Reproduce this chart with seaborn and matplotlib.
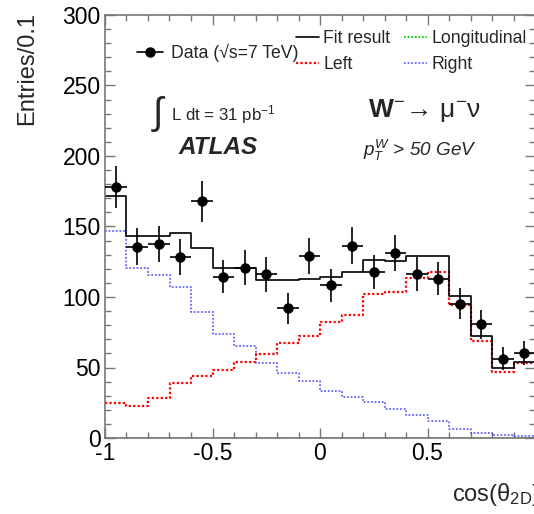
import numpy as np
import pandas as pd
import matplotlib
matplotlib.use("Agg")
import matplotlib.pyplot as plt
from matplotlib.lines import Line2D
from matplotlib.ticker import MultipleLocator
import seaborn as sns

# ---------------- data ----------------
bin_edges = [-1.0, -0.9, -0.8, -0.7, -0.6, -0.5, -0.4, -0.3, -0.2, -0.1, 0.0,
             0.1, 0.2, 0.3, 0.4, 0.5, 0.6, 0.7, 0.8, 0.9, 1.0]
data_counts = [178, 135.6, 137.6, 128.5, 168, 114.5, 120.7, 116, 91.9, 129,
               108.3, 136.4, 117.8, 130.9, 116.2, 113.1, 95.3, 80.5, 56.3, 60.3]
data_errors = [15, 13, 13.1, 12.7, 14.5, 12, 12.3, 12.1, 10.7, 12.7,
               11.6, 13, 12.2, 12.8, 12.1, 11.9, 10.9, 10, 8.4, 8.7]
fit_result = [171.5, 143.5, 143.5, 145.2, 134.5, 120.9, 120.4, 112.4, 112.4, 113.1,
              114.5, 117.8, 126.4, 125.7, 128.8, 128.8, 100.7, 72.2, 49.7, 53.7]
left_comp = [24.7, 23.0, 28.3, 38.7, 44.2, 48.0, 54.0, 59.6, 67.2, 72.2,
             82.2, 87.2, 102.2, 103.6, 113.6, 117.8, 94.6, 68.6, 47.0, 53.2]
right_comp = [146.8, 120.9, 115.5, 107.4, 89.3, 73.9, 65.6, 53.2, 46.1, 40.6,
              33.0, 29.4, 25.4, 20.9, 16.2, 12.3, 6.6, 3.8, 2.1, 1.4]
long_comp = [0.3, 0.3, 0.3, 0.3, 0.3, 0.3, 0.3, 0.3, 0.3, 0.3,
             0.3, 0.3, 0.3, 0.3, 0.3, 0.3, 0.3, 0.3, 0.3, 0.3]

edges = np.array(bin_edges)
centers = (edges[:-1] + edges[1:]) / 2
half_w = (edges[1:] - edges[:-1]) / 2

df = pd.DataFrame({"x": centers, "data": data_counts, "err": data_errors,
                   "fit": fit_result, "left": left_comp,
                   "right": right_comp, "long": long_comp})

# ---------------- style ----------------
sns.set_style("ticks")
plt.rcParams["font.family"] = ["Liberation Sans", "DejaVu Sans"]
plt.rcParams["mathtext.fontset"] = "custom"
plt.rcParams["mathtext.rm"] = "Liberation Sans"
plt.rcParams["mathtext.it"] = "Liberation Sans:italic"
plt.rcParams["mathtext.bf"] = "Liberation Sans:bold"

W, H = 534, 514
fig = plt.figure(figsize=(W / 100, H / 100), dpi=100)
ax = fig.add_axes([105 / W, 1 - 438 / H, 430 / W, 423 / H])

common = dict(bins=list(bin_edges), element="step", fill=False, stat="count", ax=ax)
sns.histplot(data=df, x="x", weights="long", color="#00cc00", linestyle=(0, (1, 1)), lw=1.3, **common)
sns.histplot(data=df, x="x", weights="right", color="#3333ff", linestyle=(0, (1, 1)), lw=1.3, alpha=0.75, **common)
sns.histplot(data=df, x="x", weights="left", color="#ff0000", linestyle=(0, (1, 1)), lw=1.6, **common)
sns.histplot(data=df, x="x", weights="fit", color="black", lw=1.2, **common)

ax.errorbar(df["x"], df["data"], yerr=df["err"], xerr=half_w, fmt="o",
            color="black", ms=6.5, elinewidth=1.2, capsize=0, zorder=5)

ax.set_xlim(-1, 1)
ax.set_ylim(0, 300)
ax.set_xlabel("")
ax.set_ylabel("")
ax.xaxis.set_minor_locator(MultipleLocator(0.1))
ax.yaxis.set_major_locator(MultipleLocator(50))
ax.yaxis.set_minor_locator(MultipleLocator(10))
ax.set_xticks([-1, -0.5, 0, 0.5])
ax.set_xticklabels(["-1", "-0.5", "0", "0.5"])
ax.tick_params(which="both", direction="in", top=True, right=True, colors="#777777",
               labelcolor="black", labelsize=16.5)
ax.tick_params(which="major", length=7.5, width=1)
ax.tick_params(which="minor", length=4, width=1)
ax.tick_params(axis="y", pad=3)
ax.tick_params(axis="x", pad=3)
for s in ax.spines.values():
    s.set_visible(True)
    s.set_color("#777777")
    s.set_linewidth(1.2)

fig.text(27 / W, 1 - 12 / H, "Entries/0.1", rotation=90, ha="center", va="top", fontsize=17)
fig.text(452 / W, 1 - 494 / H, r"cos($\mathrm{\theta}_{\mathrm{2D}}$)", ha="left", va="center",
         fontsize=17)

# legends
h_data = Line2D([], [], color="black", marker="o", ms=6.5, lw=1.2)
leg1 = ax.legend([h_data], ["Data (\u221as=7 TeV)"], loc="center left",
                 bbox_to_anchor=(137 / W, 1 - 53 / H), bbox_transform=fig.transFigure,
                 frameon=False, fontsize=12.7, handlelength=1.5, handletextpad=0.4,
                 borderpad=0, borderaxespad=0)
ax.add_artist(leg1)
handles = [Line2D([], [], color="black", lw=1.2),
           Line2D([], [], color="#ff0000", lw=1.6, ls=(0, (1, 1))),
           Line2D([], [], color="#00cc00", lw=1.3, ls=(0, (1, 1))),
           Line2D([], [], color="#3333ff", lw=1.3, ls=(0, (1, 1)), alpha=0.75)]
labels = ["Fit result", "Left", "Longitudinal", "Right"]
ax.legend(handles, labels, ncol=2, loc="upper left",
          bbox_to_anchor=(296 / W, 1 - 30 / H), bbox_transform=fig.transFigure,
          frameon=False, fontsize=12.7, handlelength=1.3, handletextpad=0.25,
          columnspacing=0.75, labelspacing=0.5, borderpad=0, borderaxespad=0)

# annotations
fig.text(159 / W, 1 - 114 / H, r"$\int$", ha="center", va="center", fontsize=27)
fig.text(171 / W, 1 - 115 / H, r"L dt = 31 pb$^{-1}$", ha="left", va="center", fontsize=12.2)
fig.text(218 / W, 1 - 147 / H, "ATLAS", ha="center", va="center", fontsize=17.5,
         fontweight="bold", style="italic")
fig.text(424 / W, 1 - 110 / H, r"$\mathbf{W}^{-}\!\rightarrow\,\mathrm{\mu}^{-}\mathrm{\nu}$",
         ha="center", va="center", fontsize=19)
fig.text(420 / W, 1 - 150 / H, r"$p_{T}^{W}$ > 50 GeV", ha="center", va="center",
         fontsize=13.6, style="italic")

fig.savefig("out.png", dpi=100)
